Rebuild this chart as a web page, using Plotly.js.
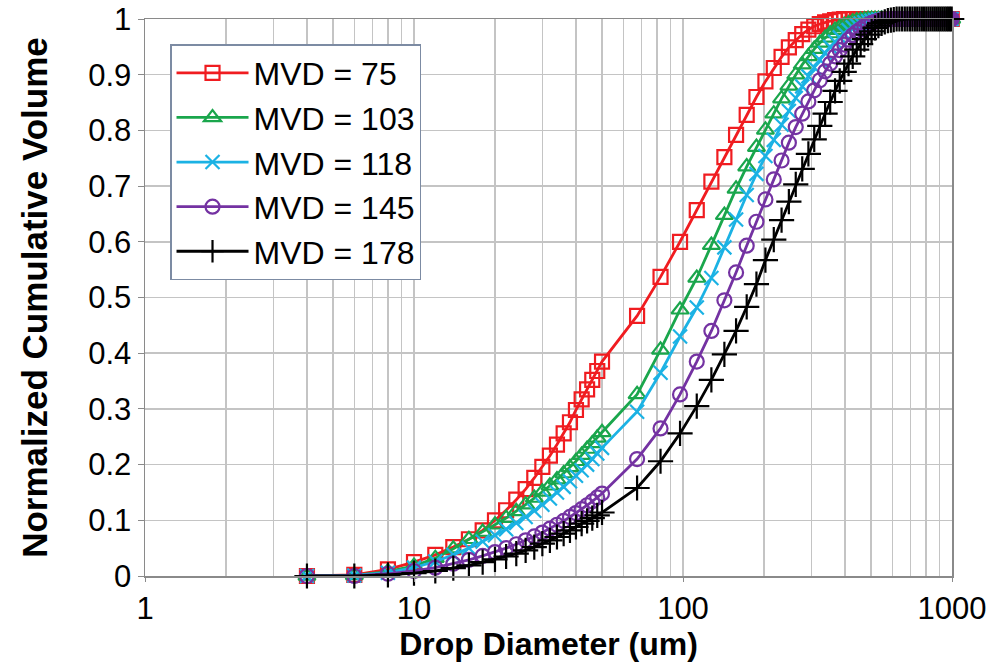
<!DOCTYPE html>
<html>
<head>
<meta charset="utf-8">
<script src="https://cdn.plot.ly/plotly-3.0.1.min.js"></script>
<style>
  html, body { margin: 0; padding: 0; background: #ffffff; }
  #chart { width: 1000px; height: 662px; }
</style>
</head>
<body>
<div id="chart"></div>
<script>
// Drop-size bin centres (um): 2 um bins up to 50, then 15 um bins
const diameters = [
  4, 6, 8, 10, 12, 14, 16, 18, 20, 22, 24, 26, 28, 30, 32, 34, 36, 38, 40, 42, 44, 46, 48, 50,
  67.5, 82.5, 97.5, 112.5, 127.5, 142.5, 157.5, 172.5, 187.5, 202.5,
  217.5, 232.5, 247.5, 262.5, 277.5, 292.5, 307.5, 322.5, 337.5, 352.5,
  367.5, 382.5, 397.5, 412.5, 427.5, 442.5, 457.5, 472.5, 487.5, 502.5,
  517.5, 532.5, 547.5, 562.5, 577.5, 592.5, 607.5, 622.5, 637.5, 652.5,
  667.5, 682.5, 697.5, 712.5, 727.5, 742.5, 757.5, 772.5, 787.5, 802.5,
  817.5, 832.5, 847.5, 862.5, 877.5, 892.5, 907.5, 922.5, 937.5, 952.5,
  967.5, 982.5, 997.5
];

const seriesNames = ["MVD = 75", "MVD = 103", "MVD = 118", "MVD = 145", "MVD = 178"];

const mvd75 = [
  0, 0.002, 0.012, 0.025, 0.038, 0.052, 0.066, 0.082, 0.1, 0.118, 0.137, 0.156,
  0.176, 0.196, 0.216, 0.236, 0.256, 0.276, 0.298, 0.317, 0.335, 0.352, 0.368, 0.385,
  0.467, 0.537, 0.6, 0.657, 0.708, 0.752, 0.792, 0.828, 0.86, 0.888,
  0.912, 0.932, 0.949, 0.962, 0.973, 0.981, 0.987, 0.991, 0.994, 0.996,
  0.998, 0.999, 1, 1, 1, 1, 1, 1, 1, 1,
  1, 1, 1, 1, 1, 1, 1, 1, 1, 1,
  1, 1, 1, 1, 1, 1, 1, 1, 1, 1,
  1, 1, 1, 1, 1, 1, 1, 1, 1, 1,
  1, 1, 1
];

const mvd103 = [
  0, 0.001, 0.008, 0.018, 0.032, 0.049, 0.066, 0.079, 0.092, 0.104, 0.116, 0.128,
  0.14, 0.151, 0.162, 0.173, 0.184, 0.195, 0.206, 0.217, 0.228, 0.238, 0.248, 0.258,
  0.326, 0.406, 0.478, 0.535, 0.594, 0.648, 0.695, 0.735, 0.77, 0.801,
  0.83, 0.857, 0.88, 0.9, 0.918, 0.933, 0.946, 0.957, 0.966, 0.974,
  0.98, 0.985, 0.989, 0.992, 0.995, 0.997, 0.998, 0.999, 1, 1,
  1, 1, 1, 1, 1, 1, 1, 1, 1, 1,
  1, 1, 1, 1, 1, 1, 1, 1, 1, 1,
  1, 1, 1, 1, 1, 1, 1, 1, 1, 1,
  1, 1, 1
];

const mvd118 = [
  0, 0.001, 0.006, 0.015, 0.026, 0.038, 0.05, 0.062, 0.073, 0.084, 0.095, 0.106,
  0.117, 0.128, 0.139, 0.15, 0.16, 0.17, 0.18, 0.19, 0.2, 0.21, 0.22, 0.23,
  0.295, 0.365, 0.43, 0.482, 0.535, 0.59, 0.64, 0.684, 0.722, 0.754,
  0.783, 0.81, 0.835, 0.858, 0.879, 0.897, 0.913, 0.927, 0.939, 0.95,
  0.959, 0.967, 0.974, 0.98, 0.985, 0.989, 0.992, 0.994, 0.996, 0.997,
  0.998, 0.999, 0.999, 1, 1, 1, 1, 1, 1, 1,
  1, 1, 1, 1, 1, 1, 1, 1, 1, 1,
  1, 1, 1, 1, 1, 1, 1, 1, 1, 1,
  1, 1, 1
];

const mvd145 = [
  0, 0, 0.004, 0.009, 0.015, 0.022, 0.029, 0.036, 0.043, 0.05, 0.057, 0.064,
  0.071, 0.078, 0.085, 0.092, 0.099, 0.106, 0.113, 0.12, 0.127, 0.134, 0.141, 0.148,
  0.21, 0.265, 0.326, 0.385, 0.44, 0.495, 0.545, 0.593, 0.636, 0.676,
  0.712, 0.746, 0.778, 0.806, 0.83, 0.852, 0.872, 0.89, 0.906, 0.92,
  0.933, 0.944, 0.954, 0.963, 0.971, 0.977, 0.982, 0.987, 0.99, 0.993,
  0.995, 0.997, 0.998, 0.999, 0.999, 1, 1, 1, 1, 1,
  1, 1, 1, 1, 1, 1, 1, 1, 1, 1,
  1, 1, 1, 1, 1, 1, 1, 1, 1, 1,
  1, 1, 1
];

const mvd178 = [
  0, 0, 0.002, 0.005, 0.009, 0.014, 0.019, 0.025, 0.03, 0.035, 0.04, 0.046,
  0.052, 0.058, 0.064, 0.07, 0.076, 0.082, 0.088, 0.094, 0.099, 0.104, 0.109, 0.114,
  0.158, 0.206, 0.256, 0.305, 0.352, 0.398, 0.44, 0.483, 0.524, 0.567,
  0.604, 0.639, 0.672, 0.703, 0.731, 0.758, 0.784, 0.808, 0.83, 0.851,
  0.871, 0.889, 0.905, 0.92, 0.933, 0.945, 0.955, 0.964, 0.972, 0.978,
  0.984, 0.988, 0.992, 0.995, 0.997, 0.998, 0.999, 1, 1, 1,
  1, 1, 1, 1, 1, 1, 1, 1, 1, 1,
  1, 1, 1, 1, 1, 1, 1, 1, 1, 1,
  1, 1, 1
];

const seriesValues = [mvd75, mvd103, mvd118, mvd145, mvd178];
const seriesColors = ["#f01c20", "#1aa64c", "#1bb2e4", "#7432a2", "#000000"];
const seriesSymbols = ["square-open", "triangle-up-open", "x-thin-open", "circle-open", "cross-thin-open"];
const seriesSizes = [14, 15, 14, 14, 18];

const xTickVals = [1, 10, 100, 1000];
const xTickText = ["1", "10", "100", "1000"];
const xMinorVals = [2,3,4,5,6,7,8,9,20,30,40,50,60,70,80,90,200,300,400,500,600,700,800,900];
const yTickVals = [0, 0.1, 0.2, 0.3, 0.4, 0.5, 0.6, 0.7, 0.8, 0.9, 1];
const yTickText = ["0", "0.1", "0.2", "0.3", "0.4", "0.5", "0.6", "0.7", "0.8", "0.9", "1"];

const traces = seriesValues.map((vals, i) => ({
  type: "scatter",
  mode: "lines+markers",
  name: seriesNames[i],
  x: diameters,
  y: vals,
  cliponaxis: false,
  line: { color: seriesColors[i], width: 2.8 },
  marker: {
    symbol: seriesSymbols[i],
    size: seriesSizes[i],
    color: seriesColors[i],
    line: { color: seriesColors[i], width: 2.2 }
  }
}));

const FONT = "Liberation Sans, Arial, sans-serif";

const layout = {
  width: 1000,
  height: 662,
  margin: { l: 145, r: 48, t: 19, b: 86 },
  paper_bgcolor: "#ffffff",
  plot_bgcolor: "#ffffff",
  showlegend: true,
  font: { family: FONT, color: "#000000", size: 32 },
  xaxis: {
    type: "log",
    range: [0, 3],
    tickmode: "array",
    tickvals: xTickVals,
    ticktext: xTickText,
    ticks: "outside",
    ticklen: 4,
    tickcolor: "#8a8a8a",
    tickfont: { family: FONT, size: 31, color: "#000" },
    ticklabeloverflow: "allow",
    showgrid: true,
    gridcolor: "#c4c4c4",
    gridwidth: 1.5,
    minor: { tickmode: "array", tickvals: xMinorVals, showgrid: true, gridcolor: "#c4c4c4", gridwidth: 1.5, ticks: "" },
    showline: true,
    linecolor: "#8a8a8a",
    linewidth: 1.5,
    mirror: true,
    zeroline: false,
    title: { text: "Drop Diameter (um)", font: { family: FONT, size: 32, color: "#000", weight: "bold" }, standoff: 3 },
    automargin: false
  },
  yaxis: {
    range: [0, 1],
    tickmode: "array",
    tickvals: yTickVals,
    ticktext: yTickText,
    ticks: "outside",
    ticklen: 6,
    tickcolor: "#8a8a8a",
    tickfont: { family: FONT, size: 31, color: "#000" },
    ticklabeloverflow: "allow",
    showgrid: true,
    gridcolor: "#c4c4c4",
    gridwidth: 1.5,
    showline: true,
    linecolor: "#8a8a8a",
    linewidth: 1.5,
    mirror: true,
    zeroline: false,
    title: { text: "Normalized Cumulative Volume", font: { family: FONT, size: 35, color: "#000", weight: "bold" }, standoff: 30 },
    automargin: false
  },
  legend: {
    x: 0.031,
    y: 0.955,
    xanchor: "left",
    yanchor: "top",
    bgcolor: "#ffffff",
    bordercolor: "#7c8ba3",
    borderwidth: 1.5,
    font: { family: FONT, size: 32, color: "#000" },
    itemwidth: 72,
    tracegroupgap: 0
  }
};

Plotly.newPlot("chart", traces, layout, { displayModeBar: false, staticPlot: true });
</script>
</body>
</html>
